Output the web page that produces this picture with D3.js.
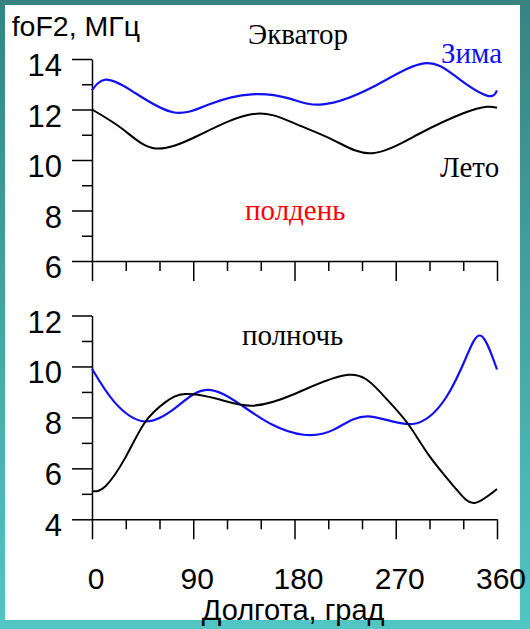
<!DOCTYPE html>
<html>
<head>
<meta charset="utf-8">
<script src="https://cdn.jsdelivr.net/npm/d3@7"></script>
<style>
  html, body { margin: 0; padding: 0; background: #ffffff; }
  svg { display: block; }
</style>
</head>
<body>
<svg id="chart" width="530" height="629"></svg>
<script>
// Longitude grid labels for the shared x axis
const lonTicks = [0, 90, 180, 270, 360];

// Noon (top panel): winter and summer foF2, MHz
const noonWinterLon = [0, 12, 35, 72, 105, 142, 175, 205, 250, 295, 325, 351, 360];
const noonWinterVal = [12.77, 13.18, 12.75, 11.89, 12.22, 12.6, 12.44, 12.2, 12.9, 13.83, 13.25, 12.55, 12.75];
const noonSummerLon = [0, 28, 56, 95, 143, 180, 215, 249, 290, 330, 351, 360];
const noonSummerVal = [12.0, 11.2, 10.46, 10.98, 11.82, 11.45, 10.78, 10.27, 11.02, 11.85, 12.11, 12.07];

// Midnight (bottom panel): winter and summer foF2, MHz
const nightWinterLon = [0, 20, 47, 75, 102, 132, 160, 188, 215, 245, 285, 315, 333, 346, 360];
const nightWinterVal = [9.91, 8.6, 7.84, 8.4, 9.08, 8.5, 7.72, 7.32, 7.52, 8.04, 7.74, 8.8, 10.4, 11.2, 9.88];
const nightSummerLon = [0, 12, 30, 47, 65, 83, 112, 142, 180, 228, 256, 280, 300, 324, 340, 360];
const nightSummerVal = [5.1, 5.3, 6.45, 7.8, 8.59, 8.92, 8.72, 8.46, 8.92, 9.67, 9.0, 7.8, 6.48, 5.17, 4.64, 5.19];

const noonTicks = [6, 8, 10, 12, 14];
const nightTicks = [4, 6, 8, 10, 12];

const svg = d3.select("#chart");

// Teal frame around the white sheet
const defs = svg.append("defs");
const grad = defs.append("linearGradient").attr("id", "frame")
  .attr("x1", 0).attr("y1", 0).attr("x2", 0).attr("y2", 1);
grad.append("stop").attr("offset", "0%").attr("stop-color", "#378382");
grad.append("stop").attr("offset", "100%").attr("stop-color", "#52c6c4");
svg.append("rect").attr("width", 530).attr("height", 629).attr("fill", "url(#frame)");
svg.append("rect").attr("x", 5).attr("y", 5).attr("width", 515).attr("height", 615).attr("fill", "#ffffff");

const x = d3.scaleLinear().domain([0, 360]).range([92, 497]);
const yNoon = d3.scaleLinear().domain([6, 14]).range([261, 59]);
const yNight = d3.scaleLinear().domain([4, 12]).range([519.3, 315.5]);

const sans = "'Liberation Sans', Arial, sans-serif";
const serif = "'Liberation Serif', 'Times New Roman', serif";

function drawAxes(y, majors, showLabels) {
  const g = svg.append("g");
  const [lo, hi] = y.domain();
  const minors = d3.range(lo, hi + 0.001, 1).filter(v => !majors.includes(v));
  const xMinor = d3.range(0, 361, 30).filter(v => !lonTicks.includes(v));

  // y axis: long ticks at even values, short at odd
  g.append("g").attr("transform", `translate(${x(0)},0)`)
    .call(d3.axisLeft(y).tickValues(majors).tickSize(20).tickSizeOuter(0).tickFormat(""));
  g.append("g").attr("transform", `translate(${x(0)},0)`)
    .call(d3.axisLeft(y).tickValues(minors).tickSize(10).tickSizeOuter(0).tickFormat(""))
    .select(".domain").remove();

  // x axis: long ticks every 90 degrees, short every 30
  g.append("g").attr("transform", `translate(0,${y(lo)})`)
    .call(d3.axisBottom(x).tickValues(lonTicks).tickSize(20).tickSizeOuter(0).tickFormat(""));
  g.append("g").attr("transform", `translate(0,${y(lo)})`)
    .call(d3.axisBottom(x).tickValues(xMinor).tickSize(10).tickSizeOuter(0).tickFormat(""))
    .select(".domain").remove();

  g.selectAll("path, line").attr("stroke", "#000").attr("stroke-width", 1.5);

  // y tick labels
  g.selectAll("text.ylab").data(majors).enter().append("text")
    .attr("class", "ylab")
    .attr("x", 62).attr("y", d => y(d) + 17)
    .attr("text-anchor", "end")
    .attr("font-family", sans).attr("font-size", 31)
    .text(d => d);

  if (showLabels) {
    g.selectAll("text.xlab").data(lonTicks).enter().append("text")
      .attr("class", "xlab")
      .attr("x", d => x(d) + 4).attr("y", 589)
      .attr("text-anchor", "middle")
      .attr("font-family", sans).attr("font-size", 30)
      .text(d => d);
  }
}

function drawLine(lons, vals, y, color, width) {
  const pts = lons.map((d, i) => [d, vals[i]]);
  const line = d3.line().x(d => x(d[0])).y(d => y(d[1])).curve(d3.curveNatural);
  svg.append("path").datum(pts)
    .attr("d", line)
    .attr("fill", "none")
    .attr("stroke", color)
    .attr("stroke-width", width)
    .attr("stroke-linejoin", "round");
}

drawAxes(yNoon, noonTicks, false);
drawAxes(yNight, nightTicks, true);

drawLine(noonWinterLon, noonWinterVal, yNoon, "#1010f0", 2.2);
drawLine(noonSummerLon, noonSummerVal, yNoon, "#000000", 2);
drawLine(nightWinterLon, nightWinterVal, yNight, "#1010f0", 2.2);
drawLine(nightSummerLon, nightSummerVal, yNight, "#000000", 2);

// Annotations
function label(txt, xp, yp, font, size, color) {
  svg.append("text").attr("x", xp).attr("y", yp)
    .attr("font-family", font).attr("font-size", size)
    .attr("fill", color).text(txt);
}
label("foF2, МГц", 11.7, 36, sans, 28.5, "#000");
label("Экватор", 248, 44, serif, 29, "#000");
label("Зима", 441, 62.7, serif, 29, "#1010f0");
label("Лето", 440, 177, serif, 29, "#000");
label("полдень", 245, 220, serif, 29, "#ff0000");
label("полночь", 242, 345, serif, 29, "#000");
label("Долгота, град", 201.7, 620, sans, 29, "#000");
</script>
</body>
</html>
